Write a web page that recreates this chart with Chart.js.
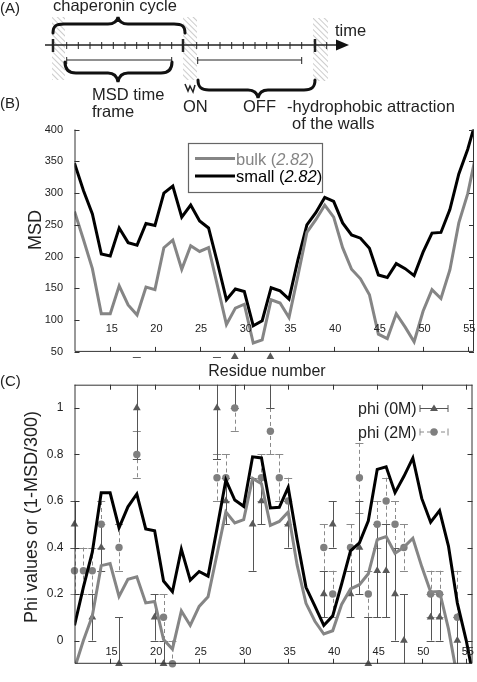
<!DOCTYPE html>
<html lang="en">
<head>
<meta charset="UTF-8">
<title>MSD and phi values</title>
<style>
  body { margin: 0; background: #fff; }
  #page { position: relative; width: 477px; height: 682px; overflow: hidden; }
  canvas { position: absolute; left: 0; }
  #msdChart { top: 100px; }
  #phiChart { top: 340px; }
  #overlay { position: absolute; left: 0; top: 0; }
</style>
<script src="https://cdn.jsdelivr.net/npm/chart.js"></script>
</head>
<body>
<div id="page">
  <canvas id="msdChart" width="477" height="270"></canvas>
  <canvas id="phiChart" width="477" height="342"></canvas>

  <svg id="overlay" width="477" height="682" font-family="Liberation Sans, Arial, sans-serif">
    <defs>
      <pattern id="hatch" width="4" height="4" patternUnits="userSpaceOnUse" patternTransform="rotate(-45)">
        <line x1="0" y1="0" x2="0" y2="4" stroke="#9a9a9a" stroke-width="1"/>
      </pattern>
    </defs>

    <!-- (A) schematic of the chaperonin cycle -->
    <g fill="#222">
      <text x="0" y="13" font-size="15">(A)</text>
      <text x="53" y="11" font-size="16.5">chaperonin cycle</text>
      <text x="335" y="36" font-size="16.5">time</text>
      <text x="0" y="108" font-size="15">(B)</text>
      <text x="92" y="100" font-size="16.5">MSD time</text>
      <text x="92" y="117" font-size="16.5">frame</text>
      <text x="183" y="112" font-size="16.5">ON</text>
      <text x="243" y="112" font-size="16.5">OFF</text>
      <text x="287" y="112" font-size="16.5">-hydrophobic attraction</text>
      <text x="292" y="129" font-size="16.5">of the walls</text>
    </g>
    <rect x="52" y="17" width="13" height="63" fill="url(#hatch)"/>
    <rect x="183" y="17" width="14" height="63" fill="url(#hatch)"/>
    <rect x="313" y="18" width="15" height="63" fill="url(#hatch)"/>

    <g stroke="#222" fill="none">
      <line x1="45" y1="45" x2="340" y2="45" stroke-width="1.5"/>
      <g stroke-width="2.5">
        <line x1="53" y1="39" x2="53" y2="52"/>
        <line x1="183" y1="39" x2="183" y2="52"/>
        <line x1="315" y1="39" x2="315" y2="52"/>
      </g>
      <path stroke-width="1" d="M66.7,42v7M78.3,42v7M90,42v7M101.7,42v7M113.3,42v7M125,42v7M136.7,42v7M148.3,42v7M160,42v7M171.7,42v7
        M196.7,42v7M208.3,42v7M220,42v7M231.7,42v7M243.3,42v7M255,42v7M266.7,42v7M278.3,42v7M290,42v7M301.7,42v7M326.7,42v7"/>
      <path stroke-width="1" d="M66.7,60H171.7M66.7,57v7M171.7,57v7M197.7,60H301.7M197.7,57v7M301.7,57v7"/>
      <g stroke-width="3" stroke-linecap="round" stroke="#111">
        <path d="M53,33 C53,26 56,24 64,24 L108,24 C114,24 117,22 118,17 C119,22 122,24 128,24 L174,24 C182,24 185,26 185,33"/>
        <path d="M65,62 C65,69 68,73 76,73 L108,73 C114,73 117,76 118,82 C119,76 122,73 128,73 L161,73 C169,73 172,69 172,62"/>
        <path d="M198,80 C198,87 201,90 209,90 L248,90 C254,90 257,93 258,98 C259,93 262,90 268,90 L304,90 C312,90 315,87 315,80"/>
      </g>
      <path stroke-width="1.5" d="M185,84 L188,91 L190,86 L193,92 L195,85"/>
    </g>
    <polygon points="336,39.5 349,45 336,50.5" fill="#111"/>

    <!-- (B) titles and legend -->
    <text x="35" y="230" font-size="18" fill="#222" text-anchor="middle" dominant-baseline="central" transform="rotate(-90 35 230)">MSD</text>
    <text x="267" y="376" font-size="16" fill="#222" text-anchor="middle">Residue number</text>
    <rect x="188.5" y="143.5" width="134" height="49" fill="#fff" stroke="#666" stroke-width="1.2"/>
    <line x1="195" y1="158.5" x2="235" y2="158.5" stroke="#858585" stroke-width="3"/>
    <line x1="195" y1="176" x2="235" y2="176" stroke="#000" stroke-width="3"/>
    <text x="236" y="164.5" font-size="16.5" fill="#858585">bulk (<tspan font-style="italic">2.82</tspan>)</text>
    <text x="236" y="182" font-size="16.5" fill="#000">small (<tspan font-style="italic">2.82</tspan>)</text>

    <!-- (C) titles and legend -->
    <text x="0" y="386" font-size="15" fill="#222">(C)</text>
    <text x="31" y="517" font-size="18" fill="#222" text-anchor="middle" dominant-baseline="central" transform="rotate(-90 31 517)">Phi values or (1-MSD/300)</text>
    <text x="416.7" y="414" font-size="16" fill="#222" text-anchor="end">phi (0M)</text>
    <text x="416.7" y="437.5" font-size="16" fill="#222" text-anchor="end">phi (2M)</text>
    <g stroke="#555" stroke-width="1">
      <path d="M420,408.5H448M420,405v7M448,405v7"/>
    </g>
    <polygon points="434,404.5 438,411 430,411" fill="#595959"/>
    <g stroke="#888" stroke-width="1">
      <path d="M420,432H448" stroke-dasharray="4 3"/>
      <path d="M420,428.5v7M448,428.5v7"/>
    </g>
    <circle cx="434" cy="432" r="3.7" fill="#7f7f7f"/>
  </svg>
</div>

<script>
// residue numbers along the x axis
const residues = [11, 12, 13, 14, 15, 16, 17, 18, 19, 20, 21, 22, 23, 24, 25, 26, 27, 28, 29, 30,
                  31, 32, 33, 34, 35, 36, 37, 38, 39, 40, 41, 42, 43, 44, 45, 46, 47, 48, 49, 50,
                  51, 52, 53, 54, 55, 56];

// (B) MSD per residue
const msdBulk  = [271, 227, 181, 110, 110, 154, 124, 108, 152, 148, 214, 226, 180, 217, 208, 214, 154, 93, 119, 125,
                  64, 69, 132, 127, 104, 170, 238, 258, 281, 262, 214, 180, 165, 140, 78, 71, 110, 89, 66, 114,
                  148, 134, 179, 253, 299, 366];
const msdSmall = [347, 304, 267, 204, 201, 245, 222, 218, 252, 249, 300, 311, 262, 281, 256, 245, 190, 132, 149, 145,
                  91, 99, 151, 146, 133, 195, 250, 269, 293, 287, 253, 234, 229, 213, 171, 167, 189, 181, 170, 207,
                  237, 238, 274, 330, 369, 418];

// (C) 1-MSD/300 curves
const curveBlack = [0.065, 0.23, 0.38, 0.635, 0.635, 0.485, 0.575, 0.63, 0.48, 0.472, 0.256, 0.21, 0.393, 0.26, 0.297, 0.277, 0.48, 0.69, 0.604, 0.577,
                    0.79, 0.785, 0.57, 0.573, 0.659, 0.434, 0.229, 0.148, 0.065, 0.106, 0.243, 0.386, 0.42, 0.515, 0.736, 0.747, 0.636, 0.706, 0.785, 0.611,
                    0.509, 0.559, 0.406, 0.161, 0.0, -0.2];
const curveGray  = [-0.12, 0.0, 0.106, 0.322, 0.331, 0.19, 0.263, 0.274, 0.162, 0.168, 0.004, -0.037, 0.127, 0.065, 0.147, 0.188, 0.37, 0.553, 0.506, 0.52,
                    0.697, 0.674, 0.495, 0.512, 0.553, 0.325, 0.16, 0.083, 0.028, 0.042, 0.155, 0.222, 0.24, 0.287, 0.434, 0.447, 0.375, 0.402, 0.44, 0.318,
                    0.209, 0.211, 0.05, -0.16, -0.4, -0.6];

// (C) measured phi values with error
const phi0Res = [11, 13, 14, 16, 18, 20, 21, 27, 28, 29, 31, 32, 33, 35, 39, 40, 42, 43, 44, 45, 46, 47, 48, 51, 52, 54];
const phi0Val = [0.5, 0.1, 0.4, -0.1, 1.0, 0.1, -0.1, 1.0, 0.6, 1.22, 0.5, 0.6, 1.22, 0.5, 0.2, 0.5, 0.2, 0.4, -0.1, 0.3, 0.3, 0.2, 0.0, 0.1, 0.1, 0.0];
const phi0Err = [0.1, 0.1, 0.1, 0.2, 0.22, 0.1, 0.1, 0.22, 0.1, 0.22, 0.2, 0.1, 0.22, 0.1, 0.1, 0.1, 0.1, 0.2, 0.2, 0.2, 0.2, 0.2, 0.2, 0.1, 0.1, 0.1];

const phi2Res = [11, 12, 13, 14, 16, 18, 21, 22, 27, 28, 29, 32, 33, 34, 35, 39, 40, 42, 43, 44, 45, 46, 47, 48, 51, 52, 54];
const phi2Val = [0.3, 0.3, 0.3, 0.5, 0.4, 0.8, 0.1, -0.1, 0.7, 0.7, 1.0, 0.7, 0.9, 0.7, 0.6, 0.4, 0.2, 0.4, 0.7, 0.2, 0.5, 0.6, 0.5, 0.4, 0.2, 0.2, 0.1];
const phi2Err = [0.1, 0.1, 0.1, 0.1, 0.1, 0.1, 0.1, 0.1, 0.1, 0.1, 0.1, 0.1, 0.1, 0.1, 0.1, 0.1, 0.1, 0.1, 0.15, 0.1, 0.1, 0.1, 0.1, 0.1, 0.1, 0.1, 0.2];

// tick labels
const xTicks = [15, 20, 25, 30, 35, 40, 45, 50, 55];
const msdTicks = [50, 100, 150, 200, 250, 300, 350, 400];
const phiTicks = [0, 0.2, 0.4, 0.6, 0.8, 1];

Chart.defaults.font.family = '"Liberation Sans", Arial, sans-serif';
Chart.defaults.color = '#222';

const pts = (xs, ys) => xs.map((x, i) => ({ x: x, y: ys[i] }));

// gnuplot-like frame: inward ticks, x labels sitting inside the plot
const framePlugin = {
  id: 'frame',
  afterDraw(chart, args, opts) {
    const { ctx, chartArea: a, scales: { x, y } } = chart;
    ctx.save();
    ctx.strokeStyle = '#333';
    ctx.lineWidth = 1;
    ctx.beginPath();
    ctx.moveTo(a.left + 0.5, a.top);
    ctx.lineTo(a.left + 0.5, a.bottom - 0.5);
    ctx.lineTo(a.right - 0.5, a.bottom - 0.5);
    ctx.lineTo(a.right - 0.5, a.top);
    if (opts.top) {
      ctx.moveTo(a.left, a.top + 0.5);
      ctx.lineTo(a.right, a.top + 0.5);
    }
    y.ticks.forEach(t => {
      const py = Math.round(y.getPixelForValue(t.value)) + 0.5;
      ctx.moveTo(a.left, py); ctx.lineTo(a.left + 5, py);
      ctx.moveTo(a.right, py); ctx.lineTo(a.right - 5, py);
    });
    xTicks.forEach(v => {
      const px = Math.round(x.getPixelForValue(v)) + 0.5;
      ctx.moveTo(px, a.bottom); ctx.lineTo(px, a.bottom - 5);
      if (opts.top) { ctx.moveTo(px, a.top); ctx.lineTo(px, a.top + 5); }
    });
    ctx.stroke();
    ctx.fillStyle = '#222';
    ctx.font = '11px "Liberation Sans", Arial, sans-serif';
    ctx.textAlign = 'center';
    xTicks.forEach(v => ctx.fillText(String(v), x.getPixelForValue(v) + 1.5, a.bottom - opts.labelOffset));
    ctx.restore();
  }
};

// vertical error bars, lines clipped to the frame, caps may poke out above
const errorBarPlugin = {
  id: 'errorBars',
  beforeDatasetsDraw(chart, args, opts) {
    const { ctx, chartArea: a, scales: { x, y } } = chart;
    opts.sets.forEach(s => {
      ctx.save();
      ctx.strokeStyle = s.color;
      ctx.lineWidth = 1;
      ctx.beginPath();
      ctx.rect(a.left, a.top, a.right - a.left, a.bottom - a.top);
      ctx.clip();
      ctx.setLineDash(s.dash);
      ctx.beginPath();
      s.res.forEach((r, i) => {
        const px = Math.round(x.getPixelForValue(r)) + 0.5;
        ctx.moveTo(px, y.getPixelForValue(s.val[i] + s.err[i]));
        ctx.lineTo(px, y.getPixelForValue(s.val[i] - s.err[i]));
      });
      ctx.stroke();
      ctx.restore();

      ctx.save();
      ctx.strokeStyle = s.color;
      ctx.lineWidth = 1;
      ctx.beginPath();
      ctx.rect(a.left - 5, a.top - 32, a.right - a.left + 10, a.bottom - a.top + 32);
      ctx.clip();
      ctx.beginPath();
      s.res.forEach((r, i) => {
        const px = x.getPixelForValue(r);
        [s.val[i] + s.err[i], s.val[i] - s.err[i]].forEach(v => {
          const py = Math.round(y.getPixelForValue(v)) + 0.5;
          ctx.moveTo(px - 4, py); ctx.lineTo(px + 4, py);
        });
      });
      ctx.stroke();
      ctx.restore();
    });
  },
  // Chart.js skips points outside the area; the ones above the frame are still shown in the figure
  afterDatasetsDraw(chart) {
    const { ctx, chartArea: a } = chart;
    chart.data.datasets.forEach((ds, i) => {
      if (ds.type !== 'scatter') return;
      chart.getDatasetMeta(i).data.forEach(el => {
        if (el.y >= a.top - 2) return;
        const r = ds.pointRadius;
        ctx.save();
        ctx.fillStyle = ds.backgroundColor;
        ctx.beginPath();
        if (ds.pointStyle === 'triangle') {
          ctx.moveTo(el.x, el.y - r);
          ctx.lineTo(el.x + r * 0.866, el.y + r / 2);
          ctx.lineTo(el.x - r * 0.866, el.y + r / 2);
          ctx.closePath();
        } else {
          ctx.arc(el.x, el.y, r, 0, Math.PI * 2);
        }
        ctx.fill();
        ctx.restore();
      });
    });
  }
};

new Chart(document.getElementById('msdChart'), {
  type: 'line',
  data: {
    datasets: [
      { label: 'bulk (2.82)', data: pts(residues, msdBulk), borderColor: '#858585', borderWidth: 3, pointRadius: 0 },
      { label: 'small (2.82)', data: pts(residues, msdSmall), borderColor: '#000', borderWidth: 3, pointRadius: 0 }
    ]
  },
  options: {
    responsive: false,
    animation: false,
    events: [],
    layout: { padding: { top: 29.5, bottom: 13, left: 0, right: 3 } },
    plugins: {
      legend: { display: false },
      tooltip: { enabled: false },
      frame: { top: false, labelOffset: 20 }
    },
    scales: {
      x: { type: 'linear', display: false, min: 11, max: 55.7 },
      y: {
        min: 50, max: 400,
        afterBuildTicks: s => { s.ticks = msdTicks.map(v => ({ value: v })); },
        afterFit: s => { s.width = 74.5; },
        grid: { display: false, drawTicks: false },
        border: { display: false },
        ticks: { padding: 11.5, font: { size: 11 }, callback: v => String(v) }
      }
    }
  },
  plugins: [framePlugin]
});

new Chart(document.getElementById('phiChart'), {
  type: 'line',
  data: {
    datasets: [
      { label: '1-MSD/300 black', data: pts(residues, curveBlack), borderColor: '#000', borderWidth: 3, pointRadius: 0, order: 0 },
      { label: '1-MSD/300 gray', data: pts(residues, curveGray), borderColor: '#858585', borderWidth: 3, pointRadius: 0, order: 0 },
      { type: 'scatter', label: 'phi (0M)', data: pts(phi0Res, phi0Val), pointStyle: 'triangle', pointRadius: 4.5,
        backgroundColor: '#595959', borderWidth: 0, showLine: false, clip: false, order: 1 },
      { type: 'scatter', label: 'phi (2M)', data: pts(phi2Res, phi2Val), pointStyle: 'circle', pointRadius: 3.7,
        backgroundColor: '#7f7f7f', borderWidth: 0, showLine: false, clip: false, order: 1 }
    ]
  },
  options: {
    responsive: false,
    animation: false,
    events: [],
    layout: { padding: { top: 44.7, bottom: 5.3, left: 0, right: 3 } },
    plugins: {
      legend: { display: false },
      tooltip: { enabled: false },
      frame: { top: true, labelOffset: 8.5 },
      errorBars: {
        sets: [
          { res: phi2Res, val: phi2Val, err: phi2Err, color: '#8a8a8a', dash: [4, 3] },
          { res: phi0Res, val: phi0Val, err: phi0Err, color: '#555', dash: [] }
        ]
      }
    },
    scales: {
      x: { type: 'linear', display: false, min: 11, max: 55.7 },
      y: {
        min: -0.1, max: 1.1,
        afterBuildTicks: s => { s.ticks = phiTicks.map(v => ({ value: v })); },
        afterFit: s => { s.width = 74.5; },
        grid: { display: false, drawTicks: false },
        border: { display: false },
        ticks: { padding: 11, font: { size: 12 }, callback: v => String(v) }
      }
    }
  },
  plugins: [framePlugin, errorBarPlugin]
});
</script>
</body>
</html>
